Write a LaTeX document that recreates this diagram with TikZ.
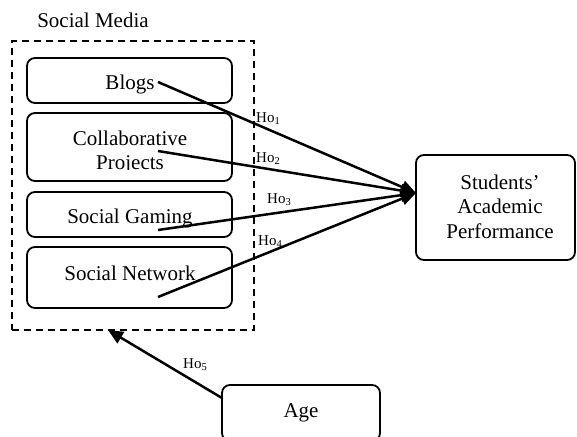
\documentclass[tikz,border=0pt]{standalone}
\usepackage{fontspec}
\setmainfont{Liberation Serif}
\usetikzlibrary{arrows.meta}
\begin{document}
\begin{tikzpicture}[x=1pt,y=-1pt,
  box/.style={draw,line width=1.8pt,rounded corners=8pt,inner sep=0pt},
  txt/.style={inner sep=0pt,anchor=base,font=\fontsize{21}{25}\selectfont,align=center},
  hlab/.style={inner sep=0pt,anchor=base west,font=\fontsize{15}{18}\selectfont},
  conn/.style={line width=2.5pt,-{Triangle[length=15pt,width=13pt]}},
  grp/.style={draw,line width=1.8pt,dash pattern=on 7pt off 5pt}]
\useasboundingbox (0,0) rectangle (577,436);
% group
\node[grp,minimum width=242pt,minimum height=289pt,inner sep=0pt] (media) at (133,185.5) {};
\node[txt] (medialab) at (93,28) {Social Media};
% boxes
\node[box,minimum width=205pt,minimum height=45pt] (blogs) at (129.5,80.5) {};
\node[txt] (blogst) at (130,89) {Blogs};
\node[box,minimum width=205pt,minimum height=68pt] (collab) at (129.5,147) {};
\begin{scope}
\clip (27,113) rectangle (232,169);
\node[txt] (collabt) at (130,145) {Collaborative};
\node[txt] (collabt2) at (130,169.5) {Projects};
\end{scope}
\node[box,minimum width=205pt,minimum height=45pt] (gaming) at (129.5,214.5) {};
\node[txt] (gamingt) at (130,223) {Social Gaming};
\node[box,minimum width=205pt,minimum height=61pt] (network) at (129.5,277.5) {};
\node[txt] (networkt) at (130,280) {Social Network};
\node[box,minimum width=159pt,minimum height=105pt] (perf) at (495.5,207.5) {};
\node[txt] (perft1) at (500,189) {Students’};
\node[txt] (perft2) at (500,213.5) {Academic};
\node[txt] (perft3) at (500,238) {Performance};
\node[box,minimum width=158pt,minimum height=56pt] (age) at (301,413) {};
\node[txt] (aget) at (301,417) {Age};
% connector ends
\coordinate (s1) at (158,82);
\coordinate (s2) at (158,151);
\coordinate (s3) at (158,230);
\coordinate (s4) at (158,297);
\coordinate (tip) at (416,193);
\coordinate (s5) at (222,398);
\coordinate (tip5) at (108,330);
\draw[conn] (s1) -- (tip);
\draw[conn] (s2) -- (tip);
\draw[conn] (s3) -- (tip);
\draw[conn] (s4) -- (tip);
\draw[conn] (s5) -- (tip5);
% labels
\node[hlab] (h1) at (256,122) {Ho\textsubscript{1}};
\node[hlab] (h2) at (256,162) {Ho\textsubscript{2}};
\node[hlab] (h3) at (267,203) {Ho\textsubscript{3}};
\node[hlab] (h4) at (258,245) {Ho\textsubscript{4}};
\node[hlab] (h5) at (183,368) {Ho\textsubscript{5}};
\end{tikzpicture}
\end{document}
